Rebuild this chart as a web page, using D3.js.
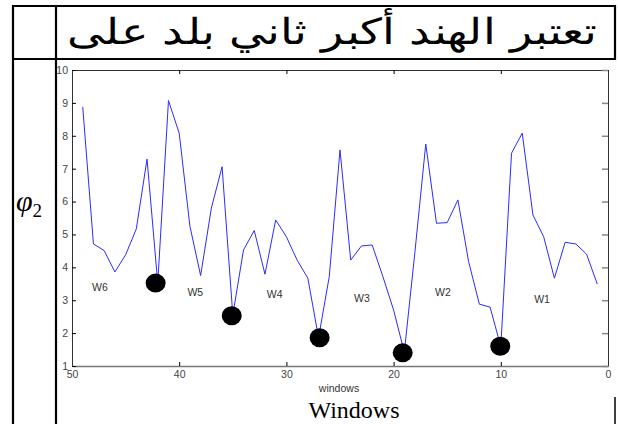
<!DOCTYPE html>
<html>
<head>
<meta charset="utf-8">
<script src="https://cdn.jsdelivr.net/npm/d3@7"></script>
<style>
  body { margin: 0; background: #fff; }
  svg { display: block; }
</style>
</head>
<body>
<script>
// window index (x, reversed axis) and phi_2 value for each
const windows = [49, 48, 47, 46, 45, 44, 43, 42, 41, 40, 39, 38, 37, 36, 35, 34, 33,
  32, 31, 30, 29, 28, 27, 26, 25, 24, 23, 22, 21, 20, 19, 18, 17, 16, 15, 14, 13,
  12, 11, 10, 9, 8, 7, 6, 5, 4, 3, 2, 1];
const phi2 = [8.88, 4.71, 4.51, 3.86, 4.38, 5.17, 7.29, 3.52, 9.07, 8.08, 5.25, 3.75, 5.8,
  7.06, 2.55, 4.53, 5.12, 3.79, 5.44, 4.93, 4.22, 3.67, 1.86, 3.72, 7.57, 4.22, 4.65,
  4.68, 3.72, 2.7, 1.42, 4.5, 7.75, 5.34, 5.36, 6.05, 4.17, 2.88, 2.79, 1.59, 7.47,
  8.08, 5.59, 4.93, 3.67, 4.76, 4.71, 4.4, 3.49];

// black dots marking the minimum of each segment
const minX = [42.2, 35.1, 26.9, 19.15, 10.05];
const minY = [3.52, 2.53, 1.86, 1.4, 1.6];

// segment labels
const segNames = ["W6", "W5", "W4", "W3", "W2", "W1"];
const segX = [47.4, 38.5, 31.1, 22.95, 15.4, 6.15];
const segY = [3.38, 3.25, 3.18, 3.06, 3.23, 3.04];

const xTicks = [50, 40, 30, 20, 10, 0];
const yTicks = [1, 2, 3, 4, 5, 6, 7, 8, 9, 10];

const width = 618, height = 424;
const plot = {left: 72, right: 608, top: 70, bottom: 366};

const svg = d3.select("body").append("svg")
  .attr("width", width)
  .attr("height", height);

// table frame around the figure
const frame = svg.append("g").attr("stroke", "#000").attr("stroke-width", 2.2);
frame.append("line").attr("x1", 13).attr("x2", 615).attr("y1", 6).attr("y2", 6);
frame.append("line").attr("x1", 13).attr("x2", 615).attr("y1", 59).attr("y2", 59);
frame.append("line").attr("x1", 13).attr("x2", 13).attr("y1", 5).attr("y2", 424);
frame.append("line").attr("x1", 56).attr("x2", 56).attr("y1", 5).attr("y2", 424);
frame.append("line").attr("x1", 615).attr("x2", 615).attr("y1", 5).attr("y2", 60);
frame.append("line").attr("x1", 615).attr("x2", 615).attr("y1", 397).attr("y2", 424)
  .attr("stroke-width", 1.5);

// arabic heading, stretched to fill the cell
const title = svg.append("text")
  .attr("font-family", "DejaVu Sans")
  .attr("font-weight", 200)
  .attr("font-size", 36)
  .attr("direction", "rtl")
  .attr("text-anchor", "middle")
  .text("تعتبر الهند أكبر ثاني بلد على");
const tw = title.node().getComputedTextLength();
title.attr("transform", `translate(332,44) scale(${535 / tw},1)`);

const x = d3.scaleLinear().domain([50, 0]).range([plot.left, plot.right]);
const y = d3.scaleLinear().domain([1, 10]).range([plot.bottom, plot.top]);

const tickFont = g => g.selectAll("text")
  .attr("font-family", "Liberation Sans")
  .attr("font-size", 10.5)
  .attr("fill", "#444");

svg.append("g")
  .attr("transform", `translate(0,${plot.bottom})`)
  .call(d3.axisBottom(x).tickValues(xTicks).tickSizeInner(-4).tickSizeOuter(0).tickPadding(5))
  .call(tickFont)
  .call(g => g.select(".domain").attr("stroke", "#777").attr("stroke-width", 1.5));

svg.append("g")
  .attr("transform", `translate(0,${plot.top})`)
  .call(d3.axisTop(x).tickValues(xTicks).tickSizeInner(-4).tickSizeOuter(0).tickFormat(""))
  .call(g => g.select(".domain").attr("stroke", "#333"));

svg.append("g")
  .attr("transform", `translate(${plot.left},0)`)
  .call(d3.axisLeft(y).tickValues(yTicks).tickSizeInner(-4).tickSizeOuter(0).tickPadding(4))
  .call(tickFont)
  .call(g => g.select(".domain").attr("stroke", "#333"));

svg.append("g")
  .attr("transform", `translate(${plot.right},0)`)
  .call(d3.axisRight(y).tickValues(yTicks).tickSizeInner(-6).tickSizeOuter(0).tickFormat(""))
  .call(g => g.select(".domain").attr("stroke", "#333"))
  .call(g => g.selectAll(".tick line").attr("stroke", "#888").attr("stroke-width", 1.5));

const pts = windows.map((w, i) => [w, phi2[i]]);
const line = d3.line()
  .x(d => x(d[0]))
  .y(d => y(d[1]));

svg.append("path")
  .attr("d", line(pts))
  .attr("fill", "none")
  .attr("stroke", "#2b2bff")
  .attr("stroke-width", 1);

svg.append("g")
  .selectAll("ellipse")
  .data(minX)
  .join("ellipse")
  .attr("cx", d => x(d))
  .attr("cy", (d, i) => y(minY[i]))
  .attr("rx", 10)
  .attr("ry", 9.5)
  .attr("fill", "#000");

svg.append("g")
  .selectAll("text")
  .data(segNames)
  .join("text")
  .attr("x", (d, i) => x(segX[i]))
  .attr("y", (d, i) => y(segY[i]))
  .attr("dy", "0.35em")
  .attr("text-anchor", "middle")
  .attr("font-family", "Liberation Sans")
  .attr("font-size", 10.5)
  .attr("fill", "#333")
  .text(d => d);

svg.append("text")
  .attr("x", 339)
  .attr("y", 392)
  .attr("text-anchor", "middle")
  .attr("font-family", "Liberation Sans")
  .attr("font-size", 10.5)
  .attr("fill", "#333")
  .text("windows");

svg.append("text")
  .attr("x", 354)
  .attr("y", 418)
  .attr("text-anchor", "middle")
  .attr("font-family", "Liberation Serif")
  .attr("font-size", 24)
  .attr("fill", "#000")
  .text("Windows");

const phi = svg.append("text")
  .attr("x", 16)
  .attr("y", 211)
  .attr("font-family", "Liberation Serif")
  .attr("fill", "#000");
phi.append("tspan")
  .attr("font-size", 30)
  .attr("font-style", "italic")
  .text("φ");
phi.append("tspan")
  .attr("font-size", 19)
  .attr("dy", 6)
  .text("2");
</script>
</body>
</html>
